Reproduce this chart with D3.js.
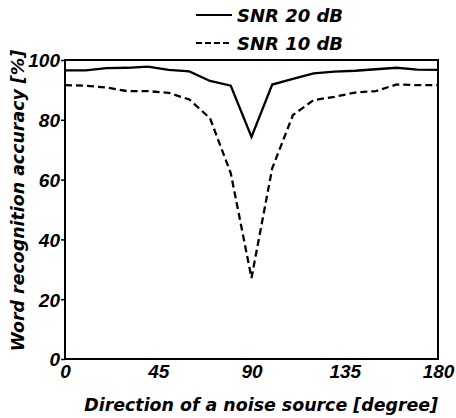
<!DOCTYPE html>
<html>
<head>
<meta charset="utf-8">
<script src="https://cdn.jsdelivr.net/npm/d3@7"></script>
<style>
  body { margin: 0; background: #fff; }
  text { font-family: "Liberation Sans", Arial, sans-serif; font-weight: bold; font-style: italic; fill: #000; }
  .title { font-family: "DejaVu Sans", sans-serif; }
</style>
</head>
<body>
<script>
// Direction of noise source (degrees)
const directions = [0, 10, 20, 30, 40, 50, 60, 70, 80, 90, 100, 110, 120, 130, 140, 150, 160, 170, 180];
// Word recognition accuracy (%)
const snr20 = [96.5, 96.5, 97.3, 97.4, 97.8, 96.7, 96.2, 93.0, 91.4, 74.3, 91.8, 93.7, 95.5, 96.1, 96.4, 96.9, 97.4, 96.8, 96.7];
const snr10 = [91.6, 91.4, 90.8, 89.6, 89.6, 89.0, 86.8, 80.5, 62.1, 27.1, 63.8, 81.6, 86.6, 87.7, 89.1, 89.6, 91.8, 91.6, 91.6];
const xTicks = [0, 45, 90, 135, 180];
const yTicks = [0, 20, 40, 60, 80, 100];
const seriesNames = ["SNR 20 dB", "SNR 10 dB"];

const width = 456, height = 418;
const margin = { left: 65, right: 18, top: 60, bottom: 59 };

const svg = d3.select("body").append("svg")
  .attr("width", width)
  .attr("height", height);

const x = d3.scaleLinear().domain([0, 180]).range([margin.left, width - margin.right]);
const y = d3.scaleLinear().domain([0, 100]).range([height - margin.bottom, margin.top]);

// frame
svg.append("rect")
  .attr("x", x(0)).attr("y", y(100))
  .attr("width", x(180) - x(0)).attr("height", y(0) - y(100))
  .attr("fill", "none").attr("stroke", "#000").attr("stroke-width", 2);

// y axis
const yAxis = svg.append("g")
  .attr("transform", `translate(${x(0)},0)`)
  .call(d3.axisLeft(y).tickValues(yTicks).tickSize(4).tickPadding(1));
yAxis.select(".domain").remove();
yAxis.selectAll("line").attr("stroke-width", 1.5);
yAxis.selectAll("text").style("font-size", "19px").attr("dy", "0.36em");

// x axis
const xAxis = svg.append("g")
  .attr("transform", `translate(0,${y(0)})`)
  .call(d3.axisBottom(x).tickValues(xTicks).tickSize(0).tickPadding(6));
xAxis.select(".domain").remove();
xAxis.selectAll("text").style("font-size", "19px");

// axis titles
svg.append("text").attr("class", "title")
  .attr("x", 438).attr("y", 411)
  .attr("text-anchor", "end")
  .style("font-size", "17.4px")
  .text("Direction of a noise source [degree]");

svg.append("text").attr("class", "title")
  .attr("transform", `translate(24,${(48 + 353) / 2}) rotate(-90)`)
  .attr("text-anchor", "middle")
  .style("font-size", "17.4px")
  .text("Word recognition accuracy [%]");

// lines
const line = vals => d3.line()
  .x((d, i) => x(directions[i]))
  .y(d => y(d))(vals);

svg.append("path").attr("d", line(snr20))
  .attr("fill", "none").attr("stroke", "#000").attr("stroke-width", 2.3);
svg.append("path").attr("d", line(snr10))
  .attr("fill", "none").attr("stroke", "#000").attr("stroke-width", 2.3)
  .attr("stroke-dasharray", "7,4");

// legend
const legend = svg.append("g");
seriesNames.forEach((name, i) => {
  const ly = 15 + i * 28;
  legend.append("line")
    .attr("x1", 196).attr("x2", 232).attr("y1", ly).attr("y2", ly)
    .attr("stroke", "#000").attr("stroke-width", 2)
    .attr("stroke-dasharray", i === 0 ? null : "6,3");
  legend.append("text").attr("class", "title")
    .attr("x", 237).attr("y", ly + 7)
    .style("font-size", "18px")
    .text(name);
});
</script>
</body>
</html>
